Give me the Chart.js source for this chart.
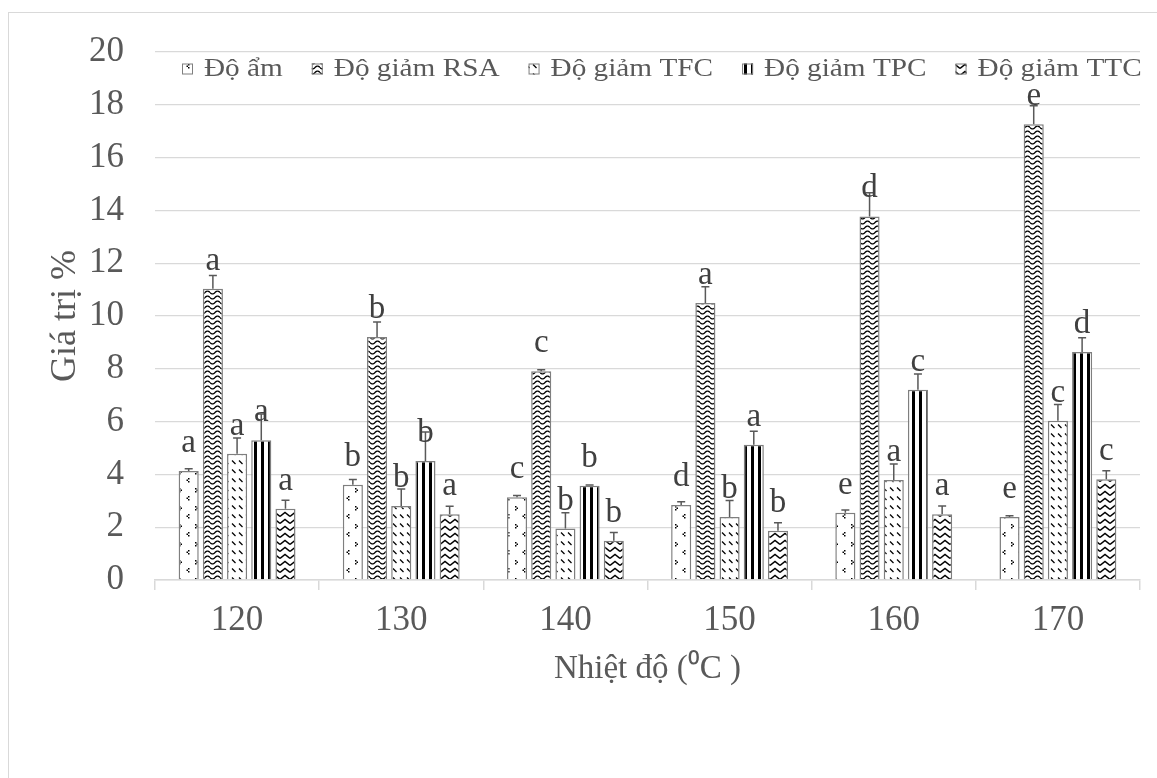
<!DOCTYPE html>
<html>
<head>
<meta charset="utf-8">
<script src="https://cdn.jsdelivr.net/npm/chart.js@4.4.0/dist/chart.umd.min.js"></script>
<style>
  html, body { margin: 0; padding: 0; background: #fff; overflow: hidden; }
  #frame { position: absolute; left: 8px; top: 12px; width: 1300px; height: 900px; border: 1px solid #d9d9d9; }
  #chart { position: absolute; left: 0; top: 0; }
</style>
</head>
<body>
<div id="frame"></div>
<canvas id="chart" width="1157" height="778"></canvas>
<script>
// Nhiệt độ sấy (°C)
const categories = ['120', '130', '140', '150', '160', '170'];

const doAm = [4.13, 3.61, 3.13, 2.84, 2.55, 2.39];
const doAmErr = [0.08, 0.2, 0.07, 0.12, 0.1, 0.04];
const doAmLetters = ['a', 'b', 'c', 'd', 'e', 'e'];

const giamRSA = [11.03, 9.2, 7.91, 10.49, 13.77, 17.26];
const giamRSAErr = [0.5, 0.57, 0.05, 0.62, 0.9, 0.7];
const giamRSALetters = ['a', 'b', 'c', 'a', 'd', 'e'];

const giamTFC = [4.78, 2.8, 1.95, 2.39, 3.79, 6.03];
const giamTFCErr = [0.6, 0.65, 0.6, 0.62, 0.6, 0.62];
const giamTFCLetters = ['a', 'b', 'b', 'b', 'a', 'c'];

const giamTPC = [5.29, 4.51, 3.57, 5.12, 7.21, 8.64];
const giamTPCErr = [1.0, 1.1, 0.03, 0.51, 0.59, 0.54];
const giamTPCLetters = ['a', 'b', 'b', 'a', 'c', 'd'];

const giamTTC = [2.7, 2.49, 1.49, 1.87, 2.49, 3.82];
const giamTTCErr = [0.32, 0.3, 0.31, 0.3, 0.31, 0.32];
const giamTTCLetters = ['a', 'a', 'b', 'b', 'a', 'c'];

const yTicks = [0, 2, 4, 6, 8, 10, 12, 14, 16, 18, 20];

const SERIF = '"Liberation Serif", "Times New Roman", serif';
const TEXT = '#595959';
const LINE = '#d9d9d9';

const canvas = document.getElementById('chart');
const ctx = canvas.getContext('2d');

// black-on-white fill patterns for the bars
function tile(w, h, draw) {
    const c = document.createElement('canvas');
    c.width = w;
    c.height = h;
    const g = c.getContext('2d');
    g.fillStyle = '#fff';
    g.fillRect(0, 0, w, h);
    g.fillStyle = '#000';
    g.strokeStyle = '#000';
    draw(g);
    return ctx.createPattern(c, 'repeat');
}

const dotPattern = tile(16, 18, g => {
    g.fillRect(3, 2, 1.5, 1.5);
    g.fillRect(4.5, 3.5, 1.5, 1.5);
    g.fillRect(3, 5, 1.5, 1.5);
    g.fillRect(12, 10, 1.5, 1.5);
    g.fillRect(10.5, 11.5, 1.5, 1.5);
    g.fillRect(12, 13, 1.5, 1.5);
});

const wavePattern = tile(10, 5, g => {
    g.lineWidth = 1.4;
    g.beginPath();
    for (let x = 0; x <= 10; x += 0.5) {
        const y = 2.5 + 1.4 * Math.sin(x / 10 * Math.PI * 2);
        if (x === 0) g.moveTo(x, y); else g.lineTo(x, y);
    }
    g.stroke();
});

const dashPattern = tile(7, 9, g => {
    g.lineWidth = 1.3;
    g.beginPath();
    g.moveTo(1, 1.5);
    g.lineTo(4.5, 5);
    g.stroke();
});

const stripePattern = tile(7, 4, g => {
    g.fillRect(2, 0, 3, 4);
});

const chevronPattern = tile(10, 7, g => {
    g.lineWidth = 1.5;
    g.beginPath();
    g.moveTo(0, 5.5);
    g.lineTo(5, 1.5);
    g.lineTo(10, 5.5);
    g.stroke();
});

const errors = [doAmErr, giamRSAErr, giamTFCErr, giamTPCErr, giamTTCErr];
const letters = [doAmLetters, giamRSALetters, giamTFCLetters, giamTPCLetters, giamTTCLetters];

// error bars (upper half) and significance letters above each bar
const errorBarPlugin = {
    id: 'errorBars',
    afterDatasetsDraw(chart) {
        const c = chart.ctx;
        const yScale = chart.scales.y;
        c.save();
        chart.data.datasets.forEach((ds, i) => {
            const meta = chart.getDatasetMeta(i);
            meta.data.forEach((bar, j) => {
                const top = yScale.getPixelForValue(ds.data[j] + errors[i][j]);
                c.strokeStyle = TEXT;
                c.lineWidth = 1.5;
                c.beginPath();
                c.moveTo(bar.x, bar.y);
                c.lineTo(bar.x, top);
                c.moveTo(bar.x - 4, top);
                c.lineTo(bar.x + 4, top);
                c.stroke();
            });
        });
        c.font = '33px ' + SERIF;
        c.fillStyle = '#404040';
        c.textAlign = 'center';
        c.textBaseline = 'alphabetic';
        chart.data.datasets.forEach((ds, i) => {
            chart.getDatasetMeta(i).data.forEach((bar, j) => {
                c.fillText(letters[i][j], bar.x, bar.y - 19);
            });
        });
        c.restore();
    }
};

// legend drawn inside the plot, near the top
const patternLegend = {
    id: 'patternLegend',
    afterDraw(chart) {
        const c = chart.ctx;
        const area = chart.chartArea;
        let x = area.left + 27;
        const y = area.top + 17;
        const stretch = 1.125;
        c.save();
        c.font = '26px ' + SERIF;
        c.textBaseline = 'middle';
        chart.data.datasets.forEach(ds => {
            c.fillStyle = ds.backgroundColor;
            c.fillRect(x, y - 5.5, 11, 11);
            c.strokeStyle = '#7f7f7f';
            c.lineWidth = 1;
            c.strokeRect(x + 0.5, y - 5, 10, 10);
            const w = c.measureText(ds.label).width * stretch;
            c.save();
            c.translate(x + 22, y);
            c.scale(stretch, 1);
            c.fillStyle = TEXT;
            c.fillText(ds.label, 0, 0);
            c.restore();
            x += 22 + w + 29;
        });
        c.restore();
    }
};

function series(label, data, pattern) {
    return {
        label: label,
        data: data,
        backgroundColor: pattern,
        borderColor: '#7f7f7f',
        borderWidth: 1.5,
        categoryPercentage: 0.737,
        barPercentage: 0.83
    };
}

new Chart(ctx, {
    type: 'bar',
    data: {
        labels: categories,
        datasets: [
            series('Độ ẩm', doAm, dotPattern),
            series('Độ giảm RSA', giamRSA, wavePattern),
            series('Độ giảm TFC', giamTFC, dashPattern),
            series('Độ giảm TPC', giamTPC, stripePattern),
            series('Độ giảm TTC', giamTTC, chevronPattern)
        ]
    },
    options: {
        responsive: false,
        animation: false,
        layout: { padding: { left: 0, right: 17, top: 43, bottom: 0 } },
        plugins: {
            legend: { display: false },
            tooltip: { enabled: false }
        },
        scales: {
            x: {
                afterFit: scale => { scale.height = 198; },
                grid: {
                    drawOnChartArea: false,
                    drawTicks: true,
                    tickLength: 10,
                    color: LINE,
                    lineWidth: 1.5
                },
                border: { display: true, color: LINE, width: 1.5 },
                ticks: {
                    color: TEXT,
                    padding: 10,
                    maxRotation: 0,
                    autoSkip: false,
                    font: { family: SERIF, size: 35 }
                },
                title: {
                    display: true,
                    text: 'Nhiệt độ (⁰C )',
                    color: TEXT,
                    font: { family: SERIF, size: 33 },
                    padding: { top: 0, bottom: 89 }
                }
            },
            y: {
                min: 0,
                max: 20,
                afterFit: scale => { scale.width = 155; },
                afterBuildTicks: scale => { scale.ticks = yTicks.map(v => ({ value: v })); },
                grid: { color: LINE, lineWidth: 1.3, drawTicks: false },
                border: { display: false },
                ticks: {
                    color: TEXT,
                    padding: 31,
                    font: { family: SERIF, size: 35 }
                },
                title: {
                    display: true,
                    text: 'Giá trị %',
                    color: TEXT,
                    font: { family: SERIF, size: 36 },
                    padding: { top: 44, bottom: 0 }
                }
            }
        }
    },
    plugins: [errorBarPlugin, patternLegend]
});
</script>
</body>
</html>
